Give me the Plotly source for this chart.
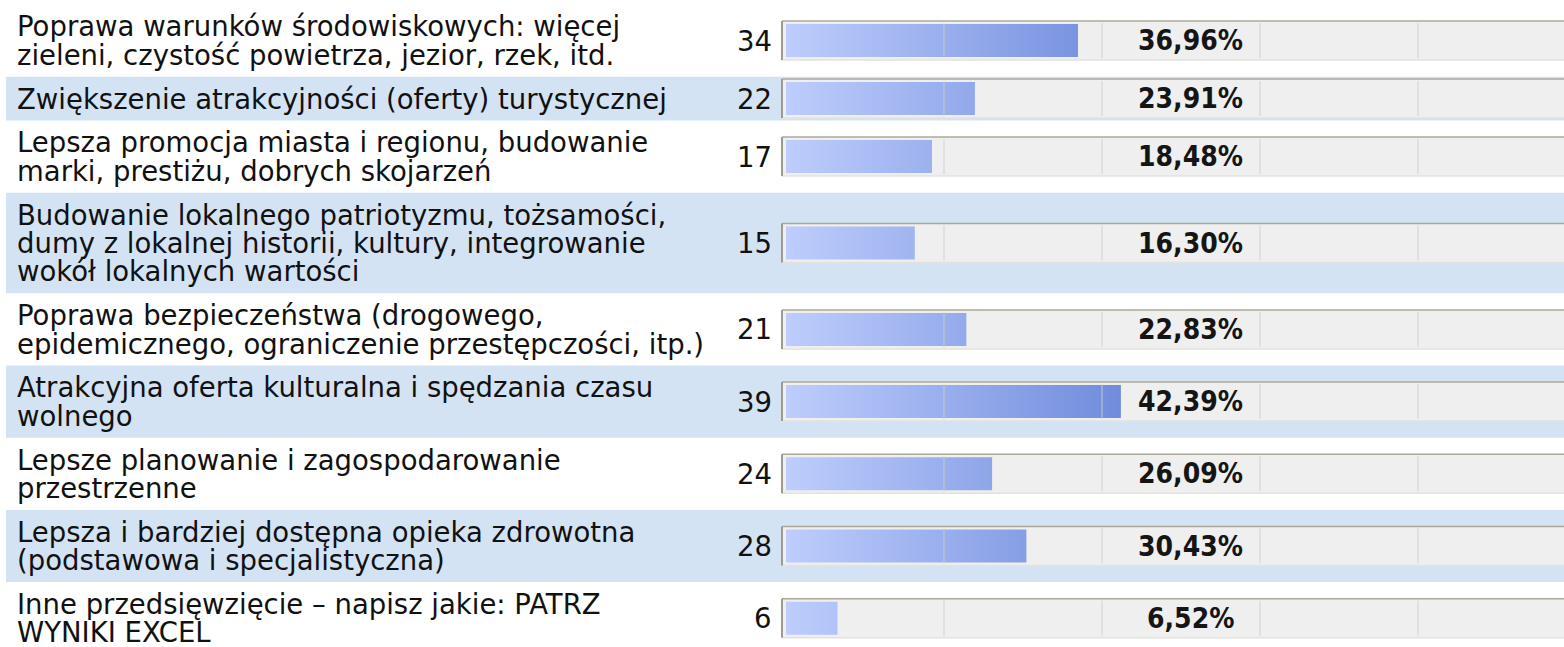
import plotly.graph_objects as go

# ---- data ----
labels = [
    "Poprawa warunków środowiskowych: więcej\nzieleni, czystość powietrza, jezior, rzek, itd.",
    "Zwiększenie atrakcyjności (oferty) turystycznej",
    "Lepsza promocja miasta i regionu, budowanie\nmarki, prestiżu, dobrych skojarzeń",
    "Budowanie lokalnego patriotyzmu, tożsamości,\ndumy z lokalnej historii, kultury, integrowanie\nwokół lokalnych wartości",
    "Poprawa bezpieczeństwa (drogowego,\nepidemicznego, ograniczenie przestępczości, itp.)",
    "Atrakcyjna oferta kulturalna i spędzania czasu\nwolnego",
    "Lepsze planowanie i zagospodarowanie\nprzestrzenne",
    "Lepsza i bardziej dostępna opieka zdrowotna\n(podstawowa i specjalistyczna)",
    "Inne przedsięwzięcie – napisz jakie: PATRZ\nWYNIKI EXCEL",
]
counts = [34, 22, 17, 15, 21, 39, 24, 28, 6]
percents = [36.96, 23.91, 18.48, 16.30, 22.83, 42.39, 26.09, 30.43, 6.52]
grid_ticks = [20, 40, 60, 80]

# ---- layout geometry (pixels) ----
W, H = 1564, 647
LINE, PAD, TOP = 28.4, 15.4, 4.5
BAR0_PX = 786          # pixel where 0 % sits
PX_PER_PCT = 7.9       # 100 % = 790 px
PLOT_LEFT_PX = 776
TRACK_HALF, BAR_HALF = 19.5, 16.5

LABEL_FONT = dict(family="Verdana, DejaVu Sans, sans-serif", size=27.5, color="#111111")
PCT_FONT = dict(family="DejaVu Sans Condensed, sans-serif",
                size=28, color="#151515", weight="bold")

# row positions from line counts
rows = []
y = TOP
for lab in labels:
    n = len(lab.split("\n"))
    h = n * LINE + PAD
    rows.append((y, y + h, y + h / 2, n))
    y += h

xr0 = (PLOT_LEFT_PX - BAR0_PX) / PX_PER_PCT
xr1 = (W - BAR0_PX) / PX_PER_PCT
track_left = (782 - BAR0_PX) / PX_PER_PCT

fig = go.Figure()
shapes, annotations = [], []

for i, (lab, cnt, pct) in enumerate(zip(labels, counts, percents)):
    y0, y1, c, n = rows[i]
    if i % 2 == 1:
        shapes.append(dict(type="rect", xref="paper", yref="y", x0=6 / W, x1=1,
                           y0=y0, y1=y1, fillcolor="#d3e3f4", line=dict(width=0), layer="below"))
    # track
    shapes.append(dict(type="rect", xref="x", yref="y", x0=track_left, x1=110,
                       y0=c - TRACK_HALF, y1=c + TRACK_HALF, fillcolor="#efefef",
                       line=dict(width=0), layer="below"))
    shapes.append(dict(type="line", xref="x", yref="y", x0=track_left, x1=110,
                       y0=c + TRACK_HALF, y1=c + TRACK_HALF, line=dict(color="#e2e2e0", width=1.5), layer="below"))
    shapes.append(dict(type="line", xref="x", yref="y", x0=track_left, x1=110,
                       y0=c - TRACK_HALF, y1=c - TRACK_HALF, line=dict(color="#aca899", width=1.5), layer="below"))
    shapes.append(dict(type="line", xref="x", yref="y", x0=track_left, x1=track_left,
                       y0=c - TRACK_HALF, y1=c + TRACK_HALF, line=dict(color="#9d9a8e", width=2), layer="below"))
    for g in grid_ticks:
        shapes.append(dict(type="line", xref="x", yref="y", x0=g, x1=g,
                           y0=c - TRACK_HALF + 2, y1=c + TRACK_HALF - 2,
                           line=dict(color="rgba(205,205,205,0.6)", width=1.5), layer="above"))
    # bar (gradient filled rectangle built from the value)
    fig.add_trace(go.Scatter(
        x=[0, pct, pct, 0, 0],
        y=[c - BAR_HALF, c - BAR_HALF, c + BAR_HALF, c + BAR_HALF, c - BAR_HALF],
        mode="lines", line=dict(width=0), fill="toself",
        fillgradient=dict(type="horizontal", start=0, stop=50,
                          colorscale=[[0, "rgb(190,205,252)"], [1, "rgb(98,128,214)"]]),
        name=lab.replace("\n", " "), hoverinfo="skip", showlegend=False))
    # label lines
    lines = lab.split("\n")
    for k, ln in enumerate(lines):
        ly = c + (k - (n - 1) / 2) * LINE
        annotations.append(dict(xref="paper", yref="y", x=15 / W, y=ly, text=ln,
                                showarrow=False, xanchor="left", yanchor="middle",
                                font=LABEL_FONT))
    annotations.append(dict(xref="paper", yref="y", x=774 / W, y=c, text=str(cnt),
                            showarrow=False, xanchor="right", yanchor="middle", font=LABEL_FONT))
    annotations.append(dict(xref="paper", yref="y", x=1190 / W, y=c,
                            text=f"{pct:.2f}".replace(".", ",") + "%",
                            showarrow=False, xanchor="center", yanchor="middle", font=PCT_FONT))

fig.update_layout(
    width=W, height=H, margin=dict(l=0, r=0, t=0, b=0, pad=0),
    paper_bgcolor="white", plot_bgcolor="rgba(0,0,0,0)",
    xaxis=dict(domain=[PLOT_LEFT_PX / W, 1], range=[xr0, xr1], visible=False, fixedrange=True),
    yaxis=dict(domain=[0, 1], range=[H, 0], visible=False, fixedrange=True),
    shapes=shapes, annotations=annotations, showlegend=False, hovermode=False,
)

fig.write_html("out.html")
